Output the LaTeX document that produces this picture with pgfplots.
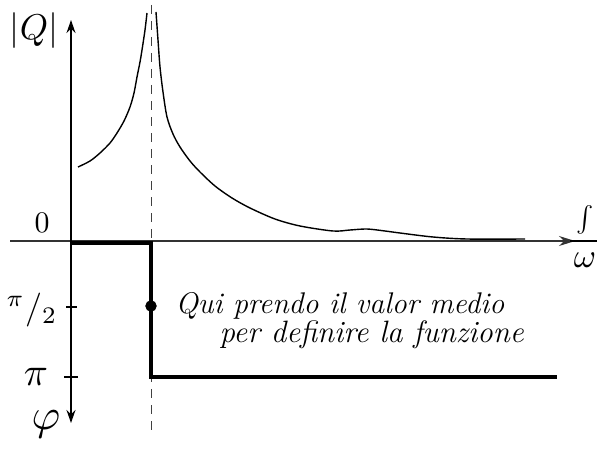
\documentclass[border=0pt]{standalone}
\usepackage{pgfplots}
\pgfplotsset{compat=1.18}
\usetikzlibrary{arrows.meta}
\begin{document}
\begin{tikzpicture}
\useasboundingbox (0,0) rectangle (611bp,459bp);
\begin{axis}[
  at={(0,0)}, anchor=south west,
  scale only axis, width=611bp, height=459bp,
  xmin=0, xmax=611, ymin=0, ymax=459,
  y dir=reverse, hide axis, clip=false,
]
% omega axis
\draw[line width=1.2bp, black!80, -{Stealth[length=16bp,width=10bp]}]
  (axis cs:10,241) -- (axis cs:575,241);
\draw[line width=1.2bp] (axis cs:570,241) -- (axis cs:597,241);
% |Q| (up) and phi (down) axis
\draw[line width=1.2bp, {Stealth[length=13bp,width=9bp]}-{Stealth[length=13bp,width=9bp]}]
  (axis cs:71,423) -- (axis cs:71,20);
% ticks pi/2 and pi
\draw[line width=1.2bp] (axis cs:66,307) -- (axis cs:77,307);
\draw[line width=1.2bp] (axis cs:64,377) -- (axis cs:78,377);
% resonance frequency
\draw[line width=1bp, dash pattern=on 9bp off 7bp, black!75]
  (axis cs:151,5) -- (axis cs:151,430);

% |Q| below resonance
\addplot[black, line width=1.4bp, smooth] coordinates {
 (78,167) (90,161) (100,153) (110,143) (117,133) (124,121) (130,107)
 (134,93) (137,77) (140,62) (142,50) (145,30) (147,13)
};
% |Q| above resonance
\addplot[black, line width=1.4bp, smooth] coordinates {
 (156,12) (158,40) (160,67) (163,92) (167,117) (173,134) (180,147)
 (190,161) (200,172) (215,186) (232,198) (250,208) (275,219)
 (300,226) (333,231) (350,230) (367,229) (385,231) (400,233)
 (433,237) (467,239) (525,239)
};
% phase phi(omega)
\addplot[black, line width=3.6bp, line join=miter] coordinates {
 (71,243) (151,243) (151,377) (557,377)
};
% mean value at the jump
\addplot[only marks, mark=*, mark size=5.5, black] coordinates {(151,306)};

% labels (math scaled up from normal size)
\node[scale=3.6] at (axis cs:34,31) {$|Q|$};
\node[scale=3.0] at (axis cs:42,223) {$0$};
\node[scale=3.4] at (axis cs:32,310) {${}^{\pi}/_{2}$};
\node[scale=4.0] at (axis cs:36,377) {$\pi$};
\node[scale=4.4] at (axis cs:46,424) {$\varphi$};
\node[scale=3.4] at (axis cs:585,260) {$\omega$};
\node[scale=2.6] at (axis cs:585,220) {$\int$};

% note
\node[anchor=base west, font=\fontsize{30}{34}\selectfont\itshape]
  at (axis cs:172,313) {Qui prendo il valor medio};
\node[anchor=base west, font=\fontsize{31}{35}\selectfont\itshape]
  at (axis cs:216,342) {per definire la funzione};
\end{axis}
\end{tikzpicture}
\end{document}
